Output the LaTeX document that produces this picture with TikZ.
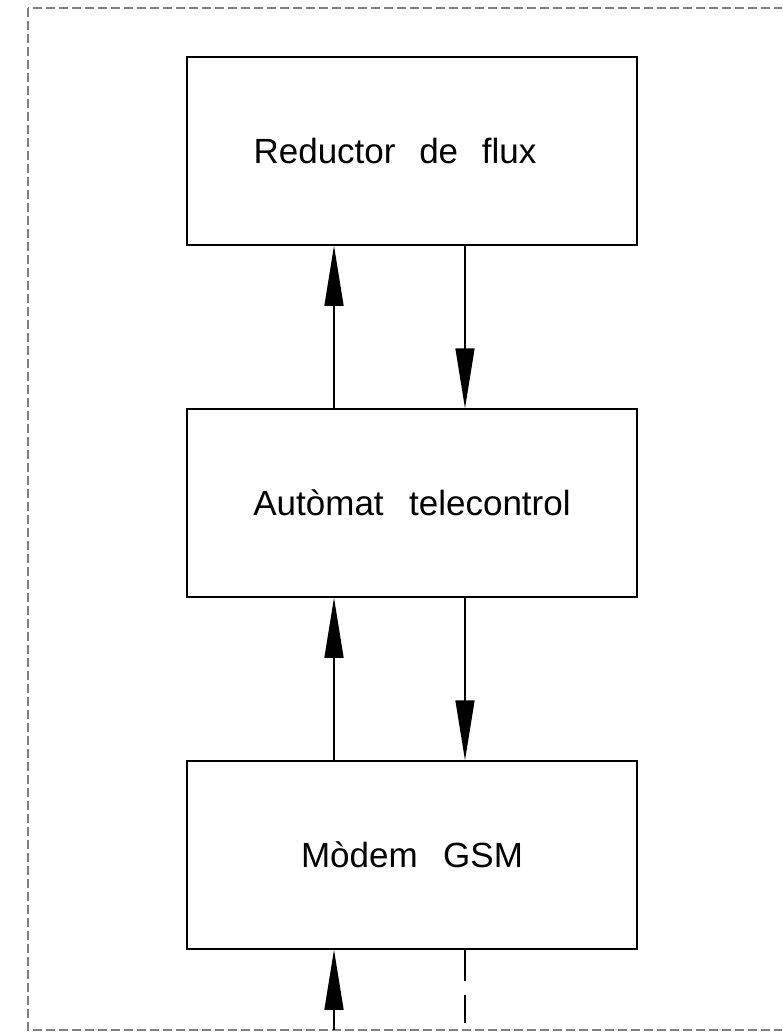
\documentclass[tikz,border=0pt]{standalone}
\usepackage{fontspec}
\setmainfont{Liberation Sans}
\usepackage{xcolor}
\usepackage{tikz}
\usetikzlibrary{arrows.meta,positioning}
\definecolor{frame}{RGB}{128,128,128}

\begin{document}
\begin{tikzpicture}[
  x=0.5pt, y=-0.5pt,
  node distance=81.25pt,
  box/.style={draw, line width=0.75pt, align=center, inner sep=0pt,
              minimum width=225pt, minimum height=94pt,
              font=\fontsize{17.5}{20}\selectfont},
  arrow/.style={-{Triangle[length=30pt,width=9.5pt]}, line width=0.75pt}
]
  \clip (0,0) rectangle (782,1032);
  \draw[frame, line width=0.6pt, dash pattern=on 4.5pt off 2pt]
    (28,8) rectangle (820,1030);
  \node[box] (reductor) at (412,151) {Reductor\hspace{0.4em} de\hspace{0.4em} flux\hspace{17pt}};
  \node[box, below=of reductor] (automat) {Autòmat\hspace{0.45em} telecontrol};
  \node[box, below=of automat] (modem) {Mòdem\hspace{0.45em} GSM};
  \coordinate (entrada) at (334,1030);
  \coordinate (sortida) at (465,1023);
  \draw[arrow] ([xshift=-39pt]automat.north) -- ([xshift=-39pt]reductor.south);
  \draw[arrow] ([xshift=26.5pt]reductor.south) -- ([xshift=26.5pt]automat.north);
  \draw[arrow] ([xshift=-39pt]modem.north) -- ([xshift=-39pt]automat.south);
  \draw[arrow] ([xshift=26.5pt]automat.south) -- ([xshift=26.5pt]modem.north);
  \draw[arrow] (entrada) -- ([xshift=-39pt]modem.south);
  \draw[line width=0.75pt, dash pattern=on 15.5pt off 7pt]
    ([xshift=26.5pt]modem.south) -- (sortida);
\end{tikzpicture}
\end{document}
